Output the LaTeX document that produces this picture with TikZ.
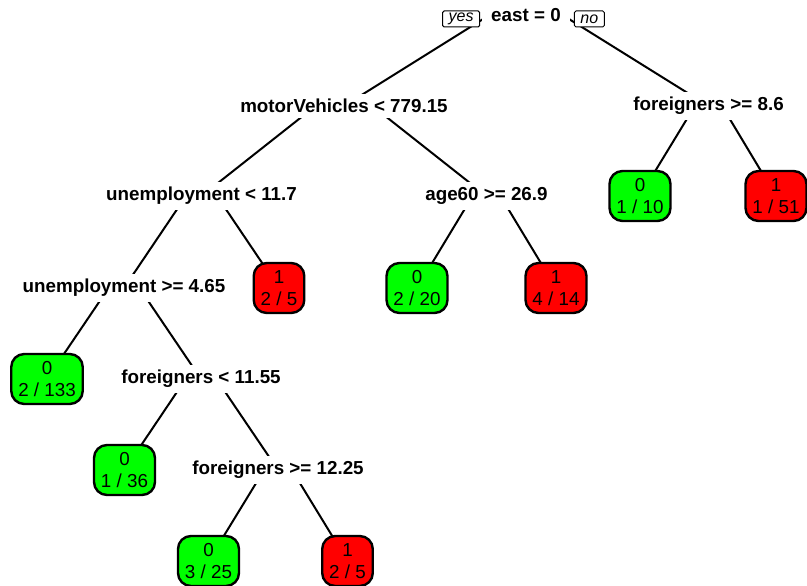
\documentclass[tikz,border=0pt]{standalone}
\usepackage{fontspec}
\setmainfont{Liberation Sans}
\usepackage{tikz}
\usetikzlibrary{calc,positioning,backgrounds}

\definecolor{leafgreen}{RGB}{0,255,0}
\definecolor{leafred}{RGB}{255,0,0}

\begin{document}
\begin{tikzpicture}[x=1pt, y=-1pt,
    split/.style={fill=white, inner xsep=4pt, inner ysep=5pt, font=\fontsize{18.8}{22}\selectfont\bfseries},
    leaf/.style={draw, line width=2.4pt, rounded corners=13pt, align=center, inner xsep=7pt, inner ysep=3pt, minimum height=50pt, font=\fontsize{18.8}{21.5}\selectfont},
    good/.style={leaf, fill=leafgreen},
    bad/.style={leaf, fill=leafred},
    yesno/.style={draw, fill=white, line width=1pt, rounded corners=1.5pt, inner xsep=6pt, inner ysep=1pt, minimum height=16pt, font=\fontsize{16}{18}\selectfont\itshape},
    branch/.style={line width=2pt}]

        \useasboundingbox (0,0) rectangle (807,586);

        % splits
        \node[split, inner xsep=9pt] (east) at (526,15) {east = 0};
        \node[split] (motor) at (344,106) {motorVehicles < 779.15};
        \node[split] (frgn) at (708.5,106) {foreigners >= 8.6};
        \node[split] (unempA) at (201.5,196) {unemployment < 11.7};
        \node[split] (age) at (486.5,196) {age60 >= 26.9};
        \node[split] (unempB) at (124,288) {unemployment >= 4.65};
        \node[split] (frgnB) at (201,379) {foreigners < 11.55};
        \node[split] (frgnC) at (278,470) {foreigners >= 12.25};

        \node[yesno, left=2pt of east, yshift=-4pt] (yes) {yes};
        \node[yesno, right=4pt of east, yshift=-4pt] (no) {no};

        % leaves
        \node[good] (lfA) at (640,196) {0\\1 / 10};
        \node[bad] (lfB) at (776,196) {1\\1 / 51};
        \node[bad] (lfC) at (279,288) {1\\2 / 5};
        \node[good] (lfD) at (417,288) {0\\2 / 20};
        \node[bad] (lfE) at (556,288) {1\\4 / 14};
        \node[good] (lfF) at (47,379) {0\\2 / 133};
        \node[good] (lfG) at (124.5,470) {0\\1 / 36};
        \node[good] (lfH) at (208.5,561) {0\\3 / 25};
        \node[bad] (lfI) at (347.5,561) {1\\2 / 5};

        \begin{scope}[on background layer]
            \foreach \p/\c in {east/motor, east/frgn, motor/unempA, motor/age, frgn/lfA, frgn/lfB,
                               unempA/unempB, unempA/lfC, age/lfD, age/lfE, unempB/lfF, unempB/frgnB,
                               frgnB/lfG, frgnB/frgnC, frgnC/lfH, frgnC/lfI}
            {
                \coordinate (shoulder) at ($(\p.center)!0.2!(\c.center)$);
                \draw[branch] (\c.center) -- (shoulder |- \p.center);
            }
        \end{scope}

    \end{tikzpicture}
\end{document}
